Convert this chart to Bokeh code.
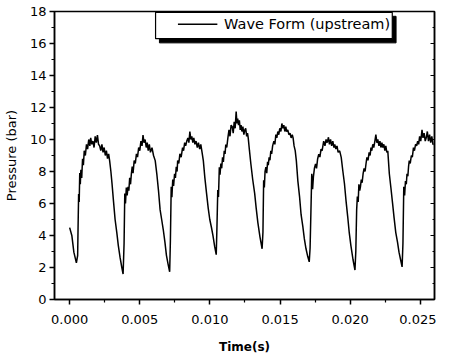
from bokeh.plotting import figure
from bokeh.models import Range1d, FixedTicker, PrintfTickFormatter, LinearAxis, ColumnDataSource
from bokeh.core.properties import value
from bokeh.embed import file_html
from bokeh.resources import INLINE

# ---- data ----
t_c1 = [0, .00016, .0003, .00048, .00057, .00060, .00064, .00068, .00072, .00076,
        .00080, .00086, .00092, .00098, .00104, .00112, .00120, .00128, .00136, .00144,
        .00150, .00158, .00166, .00174, .00182, .00190, .00198, .00206, .00214, .00222,
        .00230, .00238, .00246, .00254, .00262, .00270, .00278, .00285, .00294, .00302,
        .00313, .00324, .00336, .00347, .00360, .00372, .00381]
p_c1 = [4.49, 3.98, 2.96, 2.29, 2.75, 4.5, 6.6, 6.1, 7.9, 7.2,
        8.1, 7.6, 8.8, 8.4, 9.3, 9.0, 9.7, 9.4, 10.0, 9.6,
        10.1, 9.7, 9.9, 9.5, 10.2, 9.8, 10.27, 9.7, 9.6, 9.3,
        9.7, 9.2, 9.5, 9.0, 9.3, 8.8, 9.1, 8.68, 8.0, 7.25,
        6.1, 5.0, 4.2, 3.37, 2.6, 2.0, 1.59]

t_c2 = [.00388, .00393, .00398, .00404, .00410, .00416, .00422, .00428, .00434, .00440,
        .00446, .00452, .00460, .00468, .00476, .00484, .00492, .00500, .00508, .00516,
        .00523, .00530, .00538, .00546, .00553, .00560, .00568, .00576, .00587, .00598,
        .00610, .00622, .00633, .00645, .00656, .00667, .00679, .0069, .00702, .00713]
p_c2 = [3.5, 6.63, 6.0, 7.0, 6.5, 7.04, 6.8, 7.6, 7.2, 7.86,
        8.3, 7.9, 8.68, 8.5, 9.1, 8.9, 9.5, 9.3, 9.9, 9.6,
        10.27, 9.8, 10.0, 9.5, 9.8, 9.3, 9.7, 9.2, 9.49, 9.0,
        8.68, 7.8, 6.84, 5.6, 5.0, 4.39, 3.6, 2.76, 2.2, 1.73]

t_c3 = [.00718, .00724, .00729, .00735, .00741, .00748, .00754, .0076, .00766, .0077,
        .00778, .00786, .00795, .00805, .00812, .00820, .00827, .00835, .00843, .00850,
        .00857, .00864, .00871, .00878, .00885, .00893, .00901, .00910, .00918, .00927,
        .00935, .00944, .00953, .00964, .00976, .00988, .00999, .01011, .01022, .01034,
        .01045]
p_c3 = [3.6, 7.04, 6.4, 7.5, 7.1, 7.86, 7.6, 8.3, 8.0, 8.68,
        8.5, 9.1, 8.9, 9.49, 9.3, 9.8, 9.6, 9.9, 10.1, 9.8,
        10.5, 10.0, 10.2, 9.8, 10.1, 9.7, 9.9, 9.5, 9.8, 9.4,
        9.69, 9.2, 8.68, 7.6, 6.63, 5.7, 5.0, 4.5, 3.98, 3.3,
        2.8]

t_c4 = [.01050, .01056, .01061, .01067, .01072, .01078, .01084, .0109, .01096, .01102,
        .01108, .01113, .01120, .01128, .01136, .01143, .01151, .01159, .01166, .01173,
        .01180, .01187, .01193, .01198, .01204, .01210, .01216, .01222, .01228, .01235,
        .01242, .01249, .01255, .01262, .01268, .01273, .01282, .01292, .01305, .01319,
        .01330, .01342, .01357, .01372]
p_c4 = [4.5, 6.84, 6.4, 8.27, 7.8, 8.5, 8.2, 8.88, 8.6, 9.3,
        9.1, 9.69, 9.5, 10.1, 10.6, 10.2, 10.9, 10.8, 10.4, 11.1,
        10.7, 11.74, 11.0, 11.3, 10.9, 11.2, 10.6, 10.9, 10.5, 10.8,
        10.3, 10.6, 10.7, 10.2, 10.4, 10.1, 9.3, 8.47, 7.5, 6.63,
        5.7, 4.79, 3.9, 3.17]

t_c5 = [.01378, .01383, .01388, .01393, .01399, .01405, .01411, .01416, .01422, .01428,
        .01434, .01440, .01447, .01456, .01463, .01470, .01477, .01484, .01491, .01498,
        .01506, .01513, .01520, .01527, .01534, .01541, .01547, .01555, .01563, .01571,
        .01579, .01587, .01593, .01600, .01608, .01616, .01627, .01639, .0165, .01662,
        .01673, .01685, .01697, .01708]
p_c5 = [4.2, 7.45, 7.0, 8.0, 8.27, 7.9, 8.6, 8.4, 8.88, 8.7,
        9.3, 9.1, 9.6, 9.9, 9.7, 10.3, 10.1, 10.5, 10.3, 10.7,
        10.5, 11.0, 10.7, 10.9, 10.5, 10.8, 10.5, 10.6, 10.3, 10.4,
        10.1, 10.3, 10.1, 9.6, 9.3, 8.68, 7.4, 6.43, 5.3, 4.59,
        3.8, 3.17, 2.7, 2.35]

t_c6 = [.01714, .01720, .01726, .01732, .01738, .01745, .01753, .01760, .01768, .01776,
        .01784, .01792, .01800, .01811, .01820, .01828, .01836, .01845, .01852, .01860,
        .01868, .01876, .01884, .0189, .01898, .01906, .01914, .01925, .01936, .01948,
        .01959, .01970, .01982, .01993, .02005, .02020, .02034]
p_c6 = [3.2, 5.5, 7.86, 6.9, 7.7, 8.2, 8.47, 8.2, 8.8, 9.08,
        8.9, 9.4, 9.3, 9.9, 9.6, 10.0, 9.8, 10.14, 9.7, 10.0,
        9.6, 9.9, 9.5, 9.69, 9.4, 9.6, 9.2, 9.29, 8.88, 8.0,
        7.25, 6.2, 5.2, 4.2, 3.37, 2.5, 1.84]

t_c7 = [.02040, .02046, .02051, .02057, .02062, .02068, .02073, .02079, .02085, .02092,
        .02099, .02106, .02113, .02119, .02127, .02135, .02142, .02148, .02154, .02161,
        .02168, .02176, .02183, .02190, .02197, .02205, .02212, .02219, .02226, .02233,
        .02240, .02247, .02254, .02261, .02268, .02279, .02290, .02302, .02313, .02325,
        .02337, .02348, .02359, .0237]
p_c7 = [3.0, 5.6, 6.43, 6.1, 7.2, 6.8, 7.04, 7.5, 7.3, 7.86,
        8.2, 8.0, 8.5, 8.88, 8.7, 9.2, 9.0, 9.49, 9.3, 9.7,
        9.5, 9.9, 10.3, 9.8, 10.0, 9.6, 9.9, 9.5, 9.8, 9.49,
        9.7, 9.3, 9.6, 9.2, 9.29, 7.86, 7.0, 6.02, 5.1, 4.18,
        3.6, 2.96, 2.5, 2.04]

t_c8 = [.02376, .02382, .02388, .02394, .02400, .02405, .02411, .02416, .02421, .02428,
        .02436, .02443, .02451, .02458, .02466, .02474, .02481, .02488, .02495, .02503,
        .02512, .02519, .02527, .02535, .02542, .02550, .02558, .02566, .02574, .02582,
        .02590, .02595]
p_c8 = [3.5, 7.04, 6.5, 7.4, 7.2, 7.86, 7.7, 8.3, 8.68, 8.5,
        9.0, 8.9, 9.49, 9.3, 9.7, 9.6, 9.9, 9.7, 10.2, 9.9,
        10.6, 10.1, 10.4, 9.9, 10.1, 10.5, 9.9, 10.3, 9.8, 10.2,
        9.7, 9.69]

x_ticks = [0.0, 0.005, 0.010, 0.015, 0.020, 0.025]
x_minor = [-0.0025, 0.0025, 0.0075, 0.0125, 0.0175, 0.0225]
y_ticks = [0, 2, 4, 6, 8, 10, 12, 14, 16, 18]
y_minor = [1, 3, 5, 7, 9, 11, 13, 15, 17]
series_name = "Wave Form (upstream)"
x_label = "Time(s)"
y_label = "Pressure (bar)"

time = t_c1 + t_c2 + t_c3 + t_c4 + t_c5 + t_c6 + t_c7 + t_c8
pressure = p_c1 + p_c2 + p_c3 + p_c4 + p_c5 + p_c6 + p_c7 + p_c8

FONT = "DejaVu Sans"

p = figure(width=436, height=356,
           x_range=Range1d(-0.00108, 0.02601), y_range=Range1d(0, 18),
           output_backend="svg", toolbar_location=None,
           min_border_left=44, min_border_right=2, min_border_top=11, min_border_bottom=51)
p.xgrid.visible = False
p.ygrid.visible = False
p.outline_line_color = "black"
p.outline_line_width = 1.5
p.outline_line_alpha = 1.0
p.background_fill_color = "white"
p.border_fill_color = "white"

xa = p.xaxis[0]
xa.ticker = FixedTicker(ticks=x_ticks, minor_ticks=x_minor)
xa.formatter = PrintfTickFormatter(format="%.3f")
ya = p.yaxis[0]
ya.ticker = FixedTicker(ticks=y_ticks, minor_ticks=y_minor)

for ax in (xa, ya):
    ax.axis_line_color = "black"
    ax.axis_line_width = 1.5
    ax.major_tick_line_color = "black"
    ax.major_tick_line_width = 1.5
    ax.minor_tick_line_color = "black"
    ax.minor_tick_line_width = 1.2
    ax.major_tick_in = 0
    ax.major_tick_out = 5
    ax.minor_tick_in = 0
    ax.minor_tick_out = 3
    ax.major_label_text_font = FONT
    ax.major_label_text_font_size = "13px"
    ax.major_label_text_color = "black"
    ax.axis_label_text_font = FONT
    ax.axis_label_text_color = "black"

xa.axis_label = x_label
xa.axis_label_text_font_style = "bold"
xa.axis_label_text_font_size = "12px"
xa.major_label_standoff = 10
xa.axis_label_standoff = 13

ya.axis_label = y_label
ya.axis_label_text_font_style = "normal"
ya.axis_label_text_font_size = "13px"
ya.major_label_standoff = 3
ya.axis_label_standoff = 8

# right axis: inward ticks, no labels
ra = LinearAxis(ticker=FixedTicker(ticks=y_ticks, minor_ticks=y_minor),
                major_label_overrides={v: "" for v in y_ticks},
                major_label_standoff=0,
                major_tick_in=4, major_tick_out=0, minor_tick_in=2, minor_tick_out=0,
                axis_line_color="black", axis_line_width=1.5,
                major_tick_line_color="black", minor_tick_line_color="black")
p.add_layout(ra, "right")

src = ColumnDataSource(data=dict(t=time, p=pressure))
p.line("t", "p", source=src, line_color="black", line_width=1.5)

# legend box with drop shadow (Origin style)
p.quad(left=[0.0064], right=[0.02327], top=[17.7], bottom=[16.04],
       fill_color="black", line_color="black")
p.quad(left=[0.006125], right=[0.0230], top=[17.95], bottom=[16.3],
       fill_color="white", line_color="black", line_width=1.2)
p.segment(x0=[0.00772], y0=[17.2], x1=[0.01053], y1=[17.2],
          line_color="black", line_width=1.5)
p.text(x=[0.01101], y=[17.2], text=[series_name], text_font=value(FONT),
       text_font_size="14.5px", text_baseline="middle", text_align="left",
       text_color="black")

open("out.html", "w").write(file_html(p, INLINE))
